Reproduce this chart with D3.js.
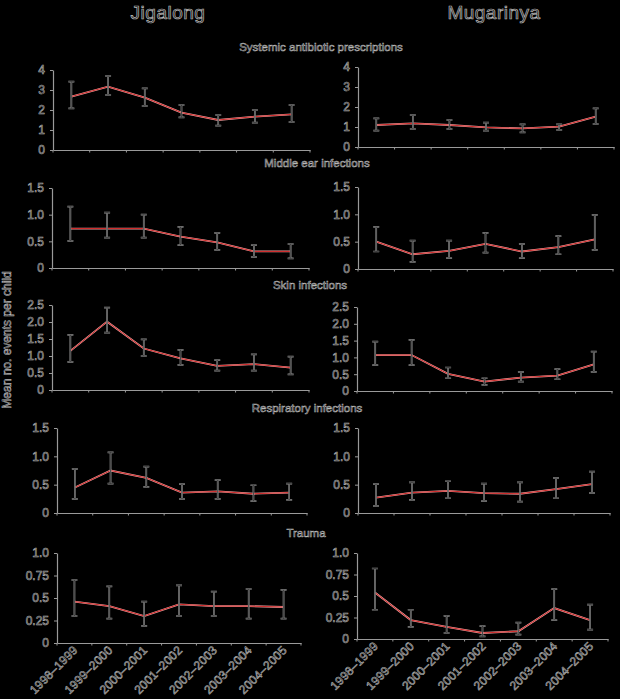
<!DOCTYPE html>
<html>
<head>
<meta charset="utf-8">
<script src="https://cdn.jsdelivr.net/npm/d3@7"></script>
<style>
  html, body { margin: 0; padding: 0; background: #000; }
  svg { display: block; background: #000; }
  text { font-family: "Liberation Sans", Arial, sans-serif; fill: #151515; stroke: #b8b8b8; stroke-width: 0.55px; }
  .domain { stroke: #9a9a9a; stroke-width: 1.2px; }
  .tick line { stroke: #9a9a9a; }
</style>
</head>
<body>
<svg width="620" height="699"></svg>
<script>
// data
const periods = ['1998–1999', '1999–2000', '2000–2001', '2001–2002', '2002–2003', '2003–2004', '2004–2005'];
const communities = ['Jigalong', 'Mugarinya'];
const outcomes = ['Systemic antibiotic prescriptions', 'Middle ear infections', 'Skin infections', 'Respiratory infections', 'Trauma'];
const yMax = [4, 1.5, 2.5, 1.5, 1.0];
const yTicks = [[0, 1, 2, 3, 4], [0, 0.5, 1.0, 1.5], [0, 0.5, 1.0, 1.5, 2.0, 2.5], [0, 0.5, 1.0, 1.5], [0, 0.25, 0.5, 0.75, 1.0]];
const yTickLabels = [['0', '1', '2', '3', '4'], ['0', '0.5', '1.0', '1.5'], ['0', '0.5', '1.0', '1.5', '2.0', '2.5'], ['0', '0.5', '1.0', '1.5'], ['0', '0.25', '0.5', '0.75', '1.0']];

const jigalongMean = [
  [2.67, 3.17, 2.62, 1.87, 1.50, 1.67, 1.78],
  [0.74, 0.74, 0.74, 0.59, 0.48, 0.31, 0.31],
  [1.15, 2.01, 1.22, 0.93, 0.71, 0.76, 0.66],
  [0.45, 0.75, 0.62, 0.36, 0.38, 0.34, 0.36],
  [0.46, 0.41, 0.30, 0.43, 0.41, 0.41, 0.40]
];
const jigalongLower = [
  [2.08, 2.75, 2.20, 1.63, 1.22, 1.37, 1.40],
  [0.51, 0.57, 0.57, 0.43, 0.34, 0.21, 0.18],
  [0.83, 1.69, 1.00, 0.74, 0.57, 0.57, 0.46],
  [0.25, 0.52, 0.46, 0.25, 0.25, 0.21, 0.23],
  [0.30, 0.27, 0.19, 0.30, 0.30, 0.27, 0.27]
];
const jigalongUpper = [
  [3.42, 3.70, 3.08, 2.25, 1.75, 2.00, 2.25],
  [1.15, 1.04, 1.00, 0.77, 0.66, 0.43, 0.45],
  [1.62, 2.42, 1.49, 1.18, 0.88, 1.05, 0.98],
  [0.78, 1.07, 0.82, 0.51, 0.58, 0.49, 0.52],
  [0.70, 0.63, 0.46, 0.64, 0.57, 0.60, 0.59]
];
const mugarinyaMean = [
  [1.10, 1.18, 1.10, 0.98, 0.93, 1.02, 1.52],
  [0.50, 0.27, 0.33, 0.46, 0.32, 0.40, 0.54],
  [1.07, 1.07, 0.51, 0.28, 0.40, 0.46, 0.79],
  [0.27, 0.36, 0.39, 0.35, 0.34, 0.42, 0.51],
  [0.54, 0.22, 0.14, 0.07, 0.09, 0.36, 0.22]
];
const mugarinyaLower = [
  [0.82, 0.90, 0.90, 0.82, 0.73, 0.85, 1.15],
  [0.32, 0.13, 0.20, 0.30, 0.20, 0.27, 0.35],
  [0.77, 0.77, 0.38, 0.18, 0.28, 0.35, 0.57],
  [0.12, 0.23, 0.26, 0.21, 0.20, 0.26, 0.35],
  [0.34, 0.14, 0.07, 0.03, 0.05, 0.22, 0.11]
];
const mugarinyaUpper = [
  [1.43, 1.60, 1.35, 1.22, 1.13, 1.13, 1.93],
  [0.77, 0.52, 0.52, 0.66, 0.46, 0.60, 0.99],
  [1.47, 1.52, 0.70, 0.38, 0.57, 0.65, 1.17],
  [0.51, 0.54, 0.56, 0.52, 0.54, 0.62, 0.73],
  [0.82, 0.34, 0.27, 0.15, 0.19, 0.58, 0.40]
];

// panel frames (layout only)
const leftPanels = [
  {x0: 53, x1: 310, y0: 70, y1: 150},
  {x0: 52, x1: 309, y0: 188, y1: 268},
  {x0: 52, x1: 309, y0: 305, y1: 390},
  {x0: 57, x1: 307, y0: 428, y1: 513},
  {x0: 57, x1: 301, y0: 553, y1: 643}
];
const rightPanels = [
  {x0: 358, x1: 614, y0: 67, y1: 147},
  {x0: 358, x1: 613, y0: 187, y1: 269},
  {x0: 357, x1: 612, y0: 307, y1: 391},
  {x0: 358, x1: 610, y0: 428, y1: 513},
  {x0: 357, x1: 608, y0: 553, y1: 639}
];
const titleX = [321, 317, 310, 307, 306];
const titleY = [51, 167, 289, 412, 537];

const svg = d3.select('svg');

// column headers
svg.selectAll('.colhead')
  .data(communities)
  .enter()
  .append('text')
  .attr('class', 'colhead')
  .attr('x', (d, i) => i === 0 ? 168 : 494)
  .attr('y', 19)
  .attr('text-anchor', 'middle')
  .style('font-size', '19px')
  .style('letter-spacing', '0.5px')
  .style('stroke-width', '0.7px')
  .text(d => d);

// y axis label
svg.append('text')
  .attr('transform', 'translate(11,340) rotate(-90)')
  .attr('text-anchor', 'middle')
  .style('font-size', '12px')
  .text('Mean no. events per child');

// panel titles
outcomes.forEach((o, r) => {
  svg.append('text')
    .attr('x', titleX[r])
    .attr('y', titleY[r])
    .attr('text-anchor', 'middle')
    .style('font-size', '11.5px')
    .text(o);
});

function drawPanel(frame, r, mean, lower, upper, lastRow) {
  const x = d3.scaleBand().domain(periods).range([frame.x0, frame.x1]).padding(0);
  const y = d3.scaleLinear().domain([0, yMax[r]]).range([frame.y1, frame.y0]);
  const cx = p => x(p) + x.bandwidth() / 2;
  const g = svg.append('g');

  // y axis
  const ya = g.append('g')
    .attr('transform', `translate(${frame.x0},0)`)
    .call(d3.axisLeft(y).tickValues(yTicks[r]).tickSize(3).tickSizeOuter(0)
      .tickFormat((d, i) => yTickLabels[r][i]));
  ya.selectAll('.tick text').style('font-size', '12px').attr('x', -8);

  // x axis: line plus ticks at band edges
  const xa = g.append('g')
    .attr('transform', `translate(0,${frame.y1})`)
    .call(d3.axisBottom(x).tickSize(0).tickSizeOuter(0).tickFormat(''));
  const edges = periods.map(p => x(p)).concat([x.range()[1]]);
  xa.selectAll('.edge')
    .data(edges)
    .enter()
    .append('line')
    .attr('x1', d => d).attr('x2', d => d)
    .attr('y1', 0).attr('y2', 2.5)
    .attr('stroke', '#9a9a9a');

  if (lastRow) {
    xa.selectAll('.lab')
      .data(periods)
      .enter()
      .append('text')
      .attr('text-anchor', 'end')
      .attr('transform', d => `translate(${cx(d) + 4},${8}) rotate(-45)`)
      .style('font-size', '12px')
      .style('letter-spacing', '0.2px')
      .text(d => d);
  }

  const pts = periods.map((p, i) => ({p, m: mean[i], lo: lower[i], hi: upper[i]}));

  // mean line
  const line = d3.line().x(d => cx(d.p)).y(d => y(d.m));
  g.append('path').datum(pts)
    .attr('fill', 'none').attr('stroke', '#e8a8a8').attr('stroke-width', 1.8)
    .attr('d', line);
  g.append('path').datum(pts)
    .attr('fill', 'none').attr('stroke', '#cf2a2a').attr('stroke-width', 1)
    .attr('d', line);

  // error bars
  const bars = g.selectAll('.err').data(pts).enter().append('g');
  [['#a0a0a0', 1.7], ['#202020', 0.7]].forEach(([col, w]) => {
    bars.append('path')
      .attr('fill', 'none').attr('stroke', col).attr('stroke-width', w)
      .attr('d', d => {
        const c = cx(d.p), t = y(d.hi), b = y(d.lo);
        return `M${c - 3},${t}H${c + 3}M${c},${t}V${b}M${c - 3},${b}H${c + 3}`;
      });
  });
}

outcomes.forEach((o, r) => {
  drawPanel(leftPanels[r], r, jigalongMean[r], jigalongLower[r], jigalongUpper[r], r === outcomes.length - 1);
  drawPanel(rightPanels[r], r, mugarinyaMean[r], mugarinyaLower[r], mugarinyaUpper[r], r === outcomes.length - 1);
});
</script>
</body>
</html>
